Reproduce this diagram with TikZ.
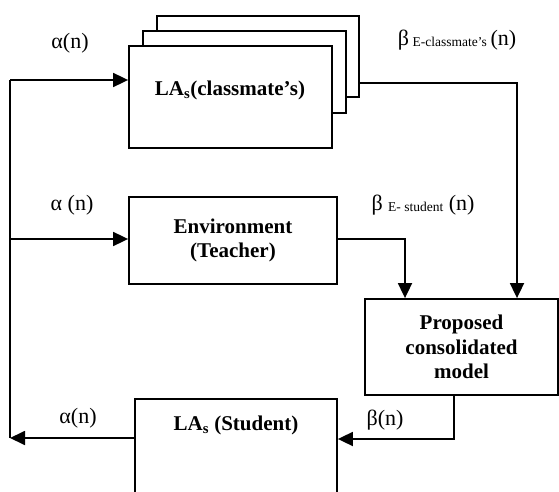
\documentclass[tikz,border=0pt]{standalone}
\usepackage{fontspec}
\setmainfont{Liberation Serif}
\usetikzlibrary{arrows.meta,calc}
\begin{document}
\begin{tikzpicture}[x=1pt,y=-1pt,
  box/.style={draw,line width=1.8pt,fill=white,inner sep=0pt},
  lbl/.style={font=\fontsize{21}{24.5}\selectfont\bfseries,align=center},
  sig/.style={font=\fontsize{22}{24}\selectfont,inner sep=0pt},
  sub/.style={},
  line/.style={line width=1.8pt},
  arr/.style={line width=1.8pt,-{Triangle[length=15pt,width=14pt]}}]
\useasboundingbox (0,0) rectangle (559,492);
\clip (0,0) rectangle (559,492);
% classmate stack
\node[box,minimum width=202pt,minimum height=81pt] (back) at (258,56.5) {};
\node[box,minimum width=203pt,minimum height=82pt] (mid) at (244.5,72) {};
\node[box,minimum width=203pt,minimum height=102pt] (front) at (230.5,97) {};
\node[lbl] (ctext) at (230,90) {LA\textsubscript{s}(classmate’s)};
% environment
\node[box,lbl,minimum width=208pt,minimum height=87pt] (env) at (233,240.5) {Environment\\(Teacher)};
% proposed
\node[box,lbl,minimum width=193pt,minimum height=96pt] (prop) at (461.5,347) {Proposed\\consolidated\\model};
% student
\node[box,minimum width=202pt,minimum height=140pt,anchor=north] (stud) at (236,398) {};
\node[lbl] (stext) at (236,425) {LA\textsubscript{s} (Student)};
% coordinates
\coordinate (L) at (10,80);
\coordinate (M) at (10,239);
\coordinate (B) at (10,438);
\coordinate (c1) at (517,83);
\coordinate (e1) at (405,239);
\coordinate (p1) at (454,439);
% connectors
\draw[line] (L) -- (B);
\draw[arr] (L) -- (front.west |- L);
\draw[arr] (M) -- (env.west |- M);
\draw[arr] (stud.west |- B) -- (B);
\draw[arr] (back.east |- c1) -- (c1) -- (c1 |- prop.north);
\draw[arr] (env.east |- e1) -- (e1) -- (e1 |- prop.north);
\draw[arr] (prop.south -| p1) -- (p1) -- (stud.east |- p1);
% labels
\node[sig] (a1) at (70,43) {α(n)};
\node[sig] (b1) at (457,40) {β\,\raisebox{-1pt}{\fontsize{13.5}{15}\selectfont E-classmate’s}\,(n)};
\node[sig] (a2) at (72,205) {α (n)};
\node[sig] (b2) at (423,205) {β \raisebox{-1pt}{\fontsize{13.5}{15}\selectfont E- student} (n)};
\node[sig] (a3) at (78,418) {α(n)};
\node[sig] (b3) at (385,420) {β(n)};
\end{tikzpicture}
\end{document}
